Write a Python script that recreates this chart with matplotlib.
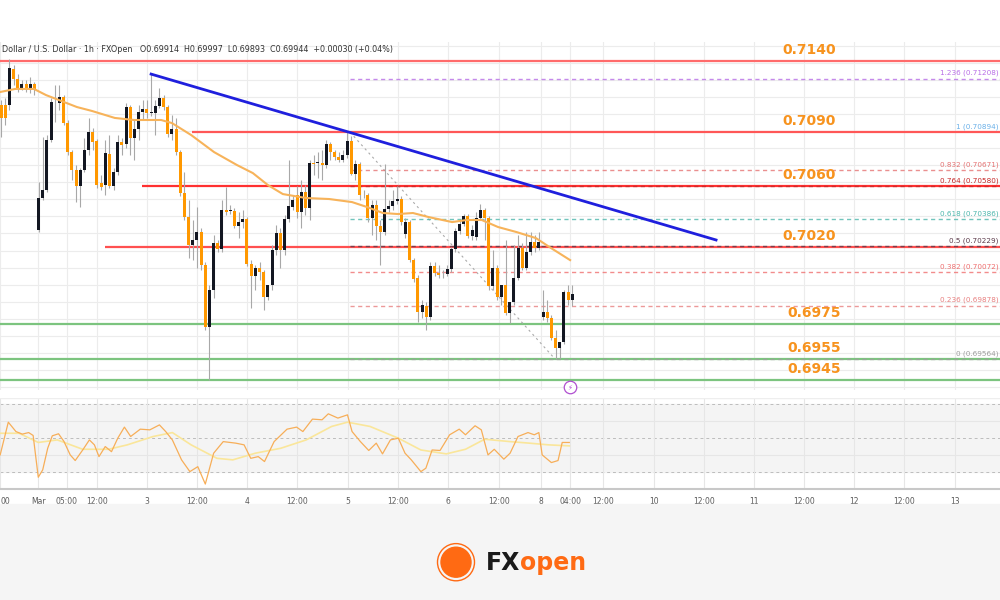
import matplotlib
matplotlib.use("Agg")
import matplotlib.pyplot as plt
from matplotlib.patches import Rectangle, Ellipse

# hourly candles (open, high, low, close)
opens = [0.71053, 0.71053, 0.71053, 0.71264, 0.71205, 0.71152, 0.71176, 0.71141, 0.71176, 0.70320,
         0.70508, 0.70555, 0.70848, 0.71070, 0.71064, 0.71100, 0.70947, 0.70777, 0.70672, 0.70578,
         0.70672, 0.70789, 0.70894, 0.70842, 0.70596, 0.70584, 0.70766, 0.70578, 0.70660, 0.70836,
         0.70824, 0.71041, 0.70859, 0.70912, 0.71012, 0.71029, 0.71006, 0.71006, 0.71047, 0.71094,
         0.71041, 0.70883, 0.70912, 0.70777, 0.70537, 0.70396, 0.70232, 0.70262, 0.70308, 0.70115,
         0.69752, 0.69969, 0.70244, 0.70209, 0.70437, 0.70432, 0.70432, 0.70344, 0.70367, 0.70385,
         0.70121, 0.70051, 0.70098, 0.70074, 0.69928, 0.69998, 0.70203, 0.70303, 0.70203, 0.70385,
         0.70455, 0.70525, 0.70426, 0.70543, 0.70449, 0.70713, 0.70713, 0.70713, 0.70701, 0.70824,
         0.70777, 0.70748, 0.70730, 0.70760, 0.70842, 0.70648, 0.70707, 0.70525, 0.70525, 0.70391,
         0.70467, 0.70344, 0.70308, 0.70443, 0.70461, 0.70490, 0.70502, 0.70297, 0.70367, 0.70144,
         0.70039, 0.69840, 0.69875, 0.69810, 0.70109, 0.70068, 0.70062, 0.70062, 0.70092, 0.70209,
         0.70314, 0.70355, 0.70402, 0.70285, 0.70279, 0.70391, 0.70437, 0.70391, 0.69992, 0.70098,
         0.69928, 0.69998, 0.69834, 0.69898, 0.70039, 0.70215, 0.70098, 0.70191, 0.70250, 0.70215,
         0.69810, 0.69840, 0.69805, 0.69687, 0.69629, 0.69664, 0.69957, 0.69910]
highs = [0.71082, 0.71094, 0.71322, 0.71287, 0.71234, 0.71199, 0.71199, 0.71217, 0.71188, 0.70602,
         0.70865, 0.70877, 0.71094, 0.71170, 0.71170, 0.71111, 0.70965, 0.70789, 0.70701, 0.70684,
         0.70859, 0.70977, 0.70918, 0.70853, 0.70643, 0.70848, 0.70877, 0.70684, 0.70877, 0.70859,
         0.71064, 0.71053, 0.70965, 0.71053, 0.71082, 0.71082, 0.71234, 0.71082, 0.71152, 0.71111,
         0.71053, 0.70994, 0.70977, 0.70789, 0.70660, 0.70496, 0.70379, 0.70455, 0.70332, 0.70133,
         0.69998, 0.70291, 0.70262, 0.70496, 0.70572, 0.70467, 0.70449, 0.70426, 0.70437, 0.70396,
         0.70144, 0.70115, 0.70133, 0.70086, 0.69998, 0.70232, 0.70350, 0.70332, 0.70408, 0.70730,
         0.70525, 0.70578, 0.70613, 0.70584, 0.70730, 0.70760, 0.70777, 0.70789, 0.70848, 0.70836,
         0.70789, 0.70777, 0.70789, 0.70894, 0.70871, 0.70730, 0.70719, 0.70555, 0.70537, 0.70496,
         0.70496, 0.70379, 0.70707, 0.70496, 0.70555, 0.70578, 0.70519, 0.70391, 0.70379, 0.70156,
         0.70057, 0.69910, 0.69898, 0.70133, 0.70133, 0.70115, 0.70086, 0.70115, 0.70221, 0.70332,
         0.70379, 0.70414, 0.70414, 0.70350, 0.70426, 0.70473, 0.70449, 0.70402, 0.70203, 0.70115,
         0.69998, 0.70262, 0.69881, 0.70232, 0.70291, 0.70244, 0.70308, 0.70308, 0.70291, 0.70308,
         0.69969, 0.69910, 0.69822, 0.69734, 0.69664, 0.69969, 0.69998, 0.69998]
lows = [0.70865, 0.70936, 0.71023, 0.71170, 0.71129, 0.71141, 0.71129, 0.71123, 0.71111, 0.70308,
        0.70496, 0.70543, 0.70836, 0.70953, 0.71023, 0.70936, 0.70760, 0.70613, 0.70484, 0.70455,
        0.70660, 0.70760, 0.70789, 0.70566, 0.70555, 0.70525, 0.70566, 0.70555, 0.70643, 0.70760,
        0.70801, 0.70760, 0.70730, 0.70848, 0.70965, 0.70977, 0.70988, 0.70877, 0.71035, 0.71023,
        0.70865, 0.70848, 0.70760, 0.70519, 0.70379, 0.70156, 0.70144, 0.70098, 0.70086, 0.69734,
        0.69441, 0.69922, 0.70191, 0.70191, 0.70408, 0.70414, 0.70332, 0.70273, 0.70332, 0.70109,
        0.69863, 0.69969, 0.70027, 0.69851, 0.69910, 0.69969, 0.70174, 0.70098, 0.70174, 0.70367,
        0.70437, 0.70391, 0.70332, 0.70408, 0.70379, 0.70643, 0.70625, 0.70613, 0.70684, 0.70730,
        0.70730, 0.70719, 0.70719, 0.70742, 0.70643, 0.70613, 0.70496, 0.70508, 0.70367, 0.70291,
        0.70262, 0.70115, 0.70291, 0.70426, 0.70437, 0.70473, 0.70350, 0.70273, 0.70133, 0.70016,
        0.69781, 0.69805, 0.69734, 0.69793, 0.70051, 0.70039, 0.70039, 0.70051, 0.70074, 0.70191,
        0.70297, 0.70344, 0.70273, 0.70262, 0.70262, 0.70379, 0.70262, 0.69969, 0.69969, 0.69910,
        0.69881, 0.69822, 0.69775, 0.69881, 0.70027, 0.70086, 0.70086, 0.70174, 0.70191, 0.70203,
        0.69793, 0.69781, 0.69676, 0.69564, 0.69570, 0.69652, 0.69881, 0.69875]
closes = [0.70977, 0.70977, 0.71270, 0.71205, 0.71152, 0.71176, 0.71152, 0.71176, 0.71141, 0.70508,
          0.70555, 0.70848, 0.71070, 0.71070, 0.71100, 0.70947, 0.70777, 0.70672, 0.70578, 0.70672,
          0.70789, 0.70894, 0.70836, 0.70584, 0.70572, 0.70771, 0.70578, 0.70660, 0.70836, 0.70818,
          0.71041, 0.70859, 0.70912, 0.71012, 0.71029, 0.71006, 0.71012, 0.71047, 0.71094, 0.71041,
          0.70883, 0.70912, 0.70777, 0.70537, 0.70396, 0.70232, 0.70262, 0.70308, 0.70115, 0.69752,
          0.69969, 0.70244, 0.70209, 0.70437, 0.70426, 0.70432, 0.70344, 0.70367, 0.70385, 0.70121,
          0.70051, 0.70098, 0.70074, 0.69928, 0.69998, 0.70203, 0.70303, 0.70203, 0.70385, 0.70461,
          0.70496, 0.70426, 0.70543, 0.70449, 0.70713, 0.70707, 0.70713, 0.70701, 0.70824, 0.70777,
          0.70748, 0.70730, 0.70760, 0.70842, 0.70648, 0.70707, 0.70525, 0.70525, 0.70391, 0.70467,
          0.70344, 0.70308, 0.70443, 0.70461, 0.70490, 0.70502, 0.70367, 0.70367, 0.70144, 0.70033,
          0.69840, 0.69881, 0.69810, 0.70109, 0.70068, 0.70057, 0.70062, 0.70092, 0.70209, 0.70314,
          0.70355, 0.70402, 0.70285, 0.70320, 0.70391, 0.70437, 0.70391, 0.69992, 0.70098, 0.69928,
          0.69998, 0.69834, 0.69898, 0.70039, 0.70215, 0.70098, 0.70191, 0.70250, 0.70215, 0.70250,
          0.69840, 0.69805, 0.69687, 0.69629, 0.69664, 0.69957, 0.69910, 0.69945]

# moving average (bar, price)
ma_x = [-0.2, 3.4, 7.9, 10.8, 18.2, 21.8, 27.3, 31.9, 38.4, 41.0, 45.6, 51.1, 56.6, 60.4, 64.0,
        67.6, 73.1, 78.7, 84.2, 87.8, 91.6, 95.2, 98.8, 102.6, 108.2, 111.7, 115.3, 119.2, 123.7,
        128.3, 131.9, 136.5]
ma_y = [0.71129, 0.71147, 0.71147, 0.71111, 0.71041, 0.71018, 0.70977, 0.70965, 0.70965, 0.70947,
        0.70877, 0.70777, 0.70701, 0.70654, 0.70584, 0.70531, 0.70508, 0.70502, 0.70484, 0.70455,
        0.70420, 0.70414, 0.70420, 0.70396, 0.70367, 0.70379, 0.70379, 0.70338, 0.70308, 0.70273,
        0.70215, 0.70144]

# RSI pane
rsi_x = [-0.2, 1.75, 3.58, 5.11, 6.64, 7.71, 8.94, 10.0, 11.2, 12.3, 13.8, 15.1, 16.6, 17.8, 19.6,
         21.2, 22.4, 23.5, 25.0, 26.5, 28.0, 29.6, 31.1, 33.4, 35.7, 38.0, 39.5, 41.1, 43.3, 45.3,
         47.2, 49.0, 51.0, 53.3, 56.3, 58.3, 59.9, 61.7, 63.2, 65.5, 68.6, 70.9, 72.4, 74.7, 77.0,
         78.5, 80.8, 83.1, 84.2, 86.2, 88.2, 90.0, 91.5, 93.4, 95.3, 96.9, 98.4, 100.7, 101.9, 103.4,
         105.3, 107.6, 109.9, 111.4, 113.7, 115.2, 116.8, 118.3, 120.6, 122.1, 124.0, 126.4, 127.9,
         129.0, 129.8, 132.0, 133.6, 134.6, 136.3]
rsi_y = [40.0, 59.2, 53.7, 52.2, 53.1, 51.4, 26.9, 31.2, 43.9, 51.2, 52.4, 47.9, 40.0, 36.7, 42.9,
         48.8, 45.9, 39.0, 44.9, 41.9, 49.8, 56.3, 50.8, 55.1, 54.7, 57.6, 53.7, 48.8, 37.1, 30.2,
         33.1, 22.9, 41.0, 47.8, 46.9, 45.9, 38.0, 39.0, 36.1, 47.8, 55.1, 56.3, 53.7, 61.0, 60.6,
         64.1, 61.6, 63.5, 53.7, 47.8, 42.6, 46.9, 40.6, 48.8, 49.8, 41.0, 37.1, 30.2, 32.2, 42.9,
         42.6, 51.8, 55.1, 51.8, 57.1, 54.7, 40.0, 43.3, 37.5, 41.0, 50.8, 53.1, 51.8, 53.1, 40.0,
         35.5, 36.7, 47.3, 47.3]
sig_x = [-0.2, 4.35, 8.94, 13.5, 19.6, 25.8, 30.3, 36.5, 41.1, 45.6, 51.8, 55.6, 61.0, 67.1, 73.2,
         79.3, 83.1, 88.5, 95.3, 100.7, 106.8, 111.4, 116.0, 122.1, 126.7, 131.3, 136.3]
sig_y = [52.7, 52.7, 47.3, 48.8, 43.3, 43.3, 45.9, 50.8, 53.1, 45.9, 38.0, 37.1, 41.0, 43.9, 48.8,
         56.7, 59.2, 56.7, 49.8, 42.9, 40.6, 43.3, 49.2, 47.8, 46.9, 45.9, 45.3]

# x axis labels
tick_pos = [-0.2, 8.9, 15.8, 23.0, 35.0, 47.0, 59.0, 71.0, 83.2, 95.2, 107.2, 119.4, 129.5, 136.5,
            144.4, 156.6, 168.6, 180.6, 192.6, 204.6, 216.5, 228.8]
tick_lbl = ["00", "Mar", "05:00", "12:00", "3", "12:00", "4", "12:00", "5", "12:00", "6", "12:00",
            "8", "04:00", "12:00", "10", "12:00", "11", "12:00", "12", "12:00", "13"]

# horizontal levels: price, label, start bar, colour
level_price = [0.71311, 0.70894, 0.70578, 0.70221, 0.69769, 0.69564, 0.69441]
level_label = ["0.7140", "0.7090", "0.7060", "0.7020", "0.6975", "0.6955", "0.6945"]
level_start = [-1, 45.8, 33.8, 24.9, -1, -1, -1]
level_color = ["#ff6b6b", "#ff5757", "#ff3030", "#ff5050", "#7cc47f", "#7cc47f", "#7cc47f"]

fib_ratio = ["1.236", "1", "0.832", "0.764", "0.618", "0.5", "0.382", "0.236", "0"]
fib_price = [0.71208, 0.70894, 0.70671, 0.70580, 0.70386, 0.70229, 0.70072, 0.69878, 0.69564]
fib_color = ["#b86ee6", "#6ab0e8", "#e57373", "#c62828", "#4db6ac", "#5b3a4a", "#ef6f6f", "#e88080", "#9e9e9e"]

trend_x = [36.0, 171.5]
trend_y = [0.71234, 0.70262]
fibdiag_x = [83.7, 132.9]
fibdiag_y = [0.70894, 0.69564]

fig = plt.figure(figsize=(10, 6), dpi=100)
fig.patch.set_facecolor("white")
fig.patches.append(Rectangle((0, 0), 1, 0.16, transform=fig.transFigure, color="#f5f5f5", zorder=0))

ax = fig.add_axes([0, 0.35, 1, 0.58])
ax.set_xlim(-0.24, 239.6)
ax.set_ylim(0.69383, 0.71422)
for s in ax.spines.values():
    s.set_visible(False)
ax.set_xticks(tick_pos)
ax.set_xticklabels([])
ax.set_yticks([0.694 + 0.001 * k for k in range(21)])
ax.tick_params(length=0, labelleft=False)
ax.grid(True, color="#ececec", linewidth=0.8)

for i in range(len(opens)):
    o, h, l, c = opens[i], highs[i], lows[i], closes[i]
    col = "#131722" if c >= o else "#ff9800"
    ax.vlines(i, l, h, color="#a8a8a8", linewidth=0.8, zorder=3)
    ax.bar(i, max(abs(c - o), 0.00003), bottom=min(o, c), width=0.72, color=col, zorder=4)

ax.plot(ma_x, ma_y, color="#f7b35a", linewidth=1.5, zorder=5)

for p, lab, st, col in zip(level_price, level_label, level_start, level_color):
    ax.hlines(p, st, 240, color=col, linewidth=1.6, zorder=2)
    xlab = 188.5 if lab in ("0.6975", "0.6955", "0.6945") else 187.3
    ax.text(xlab, p + 0.00025, lab, color="#f7931e", fontsize=10, fontweight="bold",
            va="bottom", ha="left", zorder=6)

for r, p, col in zip(fib_ratio, fib_price, fib_color):
    if r != "1":
        ax.hlines(p, 83.7, 240, color=col, linewidth=1.0, linestyles=(0, (3, 2.5)), zorder=2.5, alpha=0.8)
    ax.text(239.2, p + 0.00012, f"{r} ({p:.5f})", color=col, fontsize=5.2, va="bottom", ha="right")

ax.plot(fibdiag_x, fibdiag_y, color="#aaaaaa", linewidth=0.8, linestyle=(0, (2, 3)), zorder=2)
ax.plot(trend_x, trend_y, color="#1f1fdd", linewidth=2, zorder=6)

ax.plot(136.5, 0.69398, marker="o", markersize=9, markerfacecolor="white",
        markeredgecolor="#b04fd0", markeredgewidth=0.9, zorder=7, clip_on=False)
ax.text(136.5, 0.69398, "\u26a1", color="#b04fd0", fontsize=5, ha="center", va="center", zorder=8)

fig.text(0.002, 0.918, "Dollar / U.S. Dollar \u00b7 1h \u00b7 FXOpen   O0.69914  H0.69997  L0.69893  C0.69944  +0.00030 (+0.04%)",
         fontsize=5.8, color="#333333", va="center")

# RSI pane
ax2 = fig.add_axes([0, 0.185, 1, 0.152])
ax2.set_xlim(-0.24, 239.6)
ax2.set_ylim(20, 73.5)
for side in ("top", "left", "right"):
    ax2.spines[side].set_visible(False)
ax2.spines["bottom"].set_color("#c8c8c8")
ax2.spines["bottom"].set_linewidth(1.5)
ax2.axhspan(30, 70, color="#f4f4f4", zorder=0)
for lv in (70, 50, 30):
    ax2.axhline(lv, color="#bdbdbd", linewidth=0.7, linestyle=(0, (3, 3)), zorder=1)
ax2.axhline(73.5, color="#eeeeee", linewidth=1)
ax2.set_yticks([40, 60])
ax2.set_xticks(tick_pos)
ax2.set_xticklabels(tick_lbl)
ax2.tick_params(axis="x", length=0, labelsize=5.5, colors="#555555", pad=6)
ax2.tick_params(axis="y", length=0, labelleft=False)
ax2.get_xticklabels()[0].set_horizontalalignment("left")
ax2.grid(True, color="#e6e6e6", linewidth=0.8)
ax2.plot(sig_x, sig_y, color="#fae69a", linewidth=1.2, zorder=3)
ax2.plot(rsi_x, rsi_y, color="#f7ae58", linewidth=0.9, zorder=4)

# logo
fig.patches.append(Ellipse((0.456, 0.063), 0.030, 0.050, transform=fig.transFigure,
                           facecolor="#ff6a13", edgecolor="#ff6a13", zorder=5))
fig.patches.append(Ellipse((0.456, 0.063), 0.037, 0.062, transform=fig.transFigure,
                           facecolor="none", edgecolor="#ff6a13", linewidth=1, zorder=5))
fig.text(0.486, 0.062, "FX", fontsize=17, fontweight="bold", color="#1a1a1a", va="center", ha="left")
fig.text(0.520, 0.062, "open", fontsize=17, fontweight="bold", color="#ff6a13", va="center", ha="left")

fig.savefig("out.png", dpi=100)
